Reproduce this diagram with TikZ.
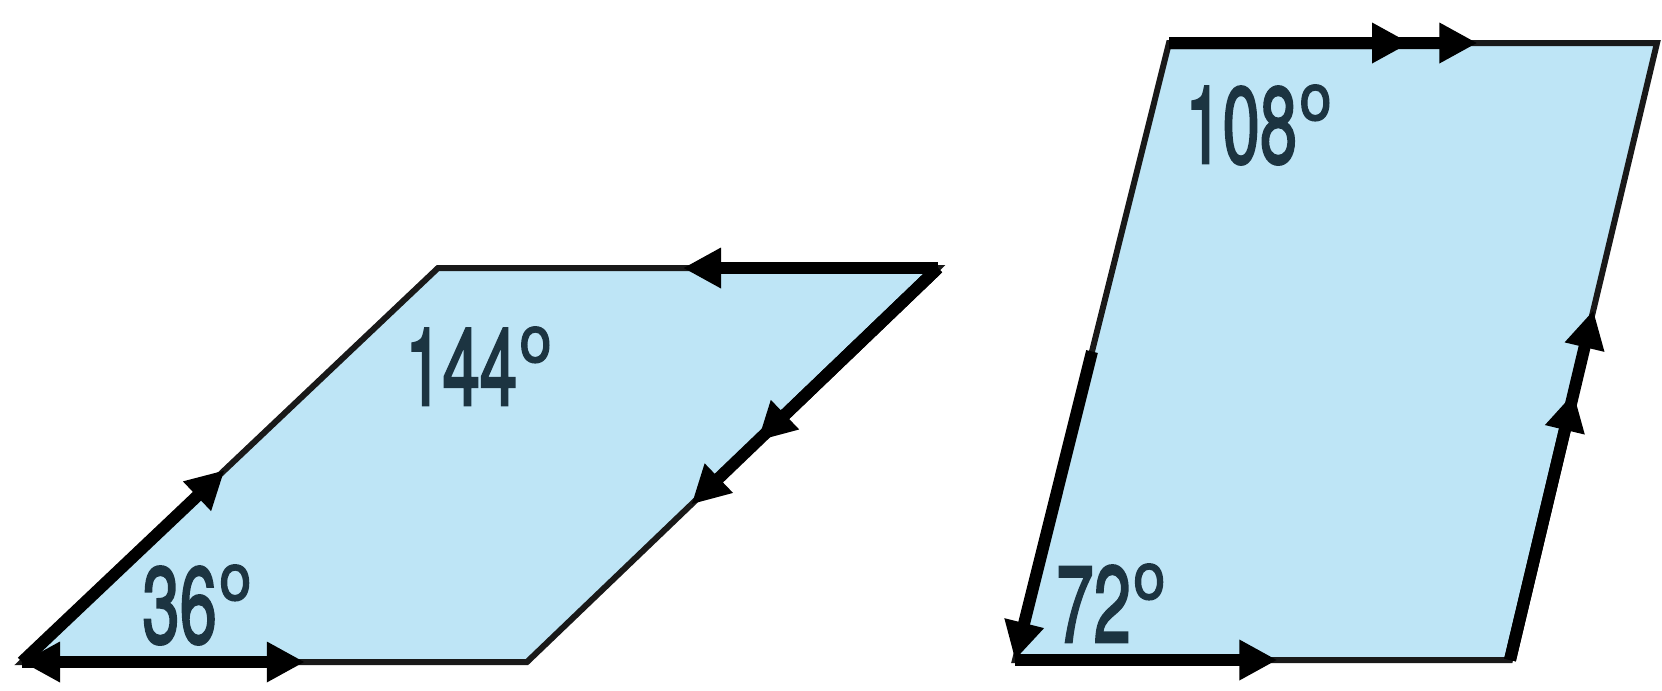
\documentclass[tikz,border=0pt]{standalone}
\usepackage{fontspec}
\setmainfont{TeX Gyre Heros}
\newfontfamily\lblfont[FakeBold=2.5]{TeX Gyre Heros}
\usetikzlibrary{arrows.meta,calc}
\definecolor{fillblue}{HTML}{BEE5F6}
\definecolor{txt}{HTML}{1C3441}
\newcommand\angl[1]{\scalebox{0.62}[1]{#1\kern0.04em\raisebox{0.4em}{\scalebox{0.85}[0.6]{o}}}}
\begin{document}
\begin{tikzpicture}[x=0.5pt,y=-0.5pt,
  edge/.style={line width=3pt, line join=miter, draw=black!90},
  vec/.style={line width=6pt, draw=black, -{Triangle[length=19pt,width=19pt]}},
  lbl/.style={font=\fontsize{54}{54}\lblfont, text=txt, inner sep=0pt, anchor=base west}]
\useasboundingbox[fill=white] (0,0) rectangle (1662,691);
% left parallelogram
\coordinate (A1) at (22,662);
\coordinate (B1) at (527,662);
\coordinate (C1) at (938,268);
\coordinate (D1) at (438,268);
\filldraw[fill=fillblue, edge] (A1) -- (B1) -- (C1) -- (D1) -- cycle;
\draw[vec] (A1) -- ($(A1)!0.56!(B1)$);
\draw[vec] ($(A1)!0.2!(B1)$) -- (A1);
\draw[vec] (A1) -- ($(A1)!0.487!(D1)$);
\draw[vec] (C1) -- ($(C1)!0.51!(D1)$);
\draw[vec] (C1) -- ($(C1)!0.6!(B1)$);
\draw[vec] (C1) -- ($(C1)!0.439!(B1)$);
% right parallelogram
\coordinate (A2) at (1015,660);
\coordinate (B2) at (1510,660);
\coordinate (C2) at (1657,43);
\coordinate (D2) at (1169,43);
\filldraw[fill=fillblue, edge] (A2) -- (B2) -- (C2) -- (D2) -- cycle;
\draw[vec] (D2) -- ($(D2)!0.632!(C2)$);
\draw[vec] (D2) -- ($(D2)!0.494!(C2)$);
\draw[vec] (A2) -- ($(A2)!0.53!(B2)$);
\draw[vec] (B2) -- ($(B2)!0.567!(C2)$);
\draw[vec] (B2) -- ($(B2)!0.433!(C2)$);
\draw[vec] ($(D2)!0.5!(A2)$) -- (A2);
% labels
\node[lbl] (l144) at (405,405) {\angl{144}};
\node[lbl] (l36) at (142,643) {\angl{36}};
\node[lbl] (l108) at (1185,163) {\angl{108}};
\node[lbl] (l72) at (1056,642) {\angl{72}};
\end{tikzpicture}
\end{document}
